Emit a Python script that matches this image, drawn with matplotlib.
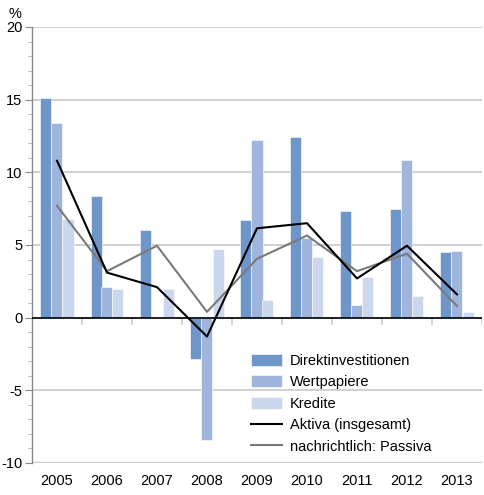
import matplotlib
matplotlib.use("Agg")
import matplotlib.pyplot as plt
import numpy as np
from matplotlib.ticker import MultipleLocator

years = ["2005", "2006", "2007", "2008", "2009", "2010", "2011", "2012", "2013"]
direkt = [15.1, 8.4, 6.0, -2.85, 6.7, 12.4, 7.35, 7.5, 4.55]
wertpapiere = [13.4, 2.1, 0.0, -8.4, 12.2, 5.5, 0.9, 10.85, 4.6]
kredite = [6.8, 2.0, 1.95, 4.7, 1.25, 4.15, 2.8, 1.5, 0.4]
aktiva = [10.8, 3.1, 2.1, -1.3, 6.15, 6.5, 2.7, 4.95, 1.6]
passiva = [7.7, 3.2, 4.95, 0.4, 4.05, 5.65, 3.2, 4.4, 0.8]
labels = ["Direktinvestitionen", "Wertpapiere", "Kredite",
          "Aktiva (insgesamt)", "nachrichtlich: Passiva"]

plt.rcParams['font.family'] = ['Liberation Sans', 'DejaVu Sans']
plt.rcParams['axes.unicode_minus'] = False

fig = plt.figure(figsize=(4.85, 4.95), dpi=100)
ax = fig.add_axes([32/485, 1 - 463/495, 450/485, (463-27)/495])

x = np.arange(len(years))
w = 0.22
c1, c2, c3 = "#6f96c9", "#a0b5dc", "#cbd7ec"
b1 = ax.bar(x - w, direkt, w, color=c1, edgecolor="white", linewidth=0.4, zorder=2)
b2 = ax.bar(x, wertpapiere, w, color=c2, edgecolor="white", linewidth=0.4, zorder=2)
b3 = ax.bar(x + w, kredite, w, color=c3, edgecolor="white", linewidth=0.4, zorder=2)
l1, = ax.plot(x, aktiva, color="black", lw=1.5, zorder=4)
l2, = ax.plot(x, passiva, color="#7a7a7a", lw=1.5, zorder=3)

ax.set_xlim(-0.5, len(years) - 0.5)
ax.set_ylim(-10, 20)
ax.yaxis.set_major_locator(MultipleLocator(5))
ax.yaxis.set_minor_locator(MultipleLocator(1))
ax.grid(axis="y", which="major", color="#c8c8c8", lw=1.2, zorder=0)
ax.axhline(0, color="black", lw=1.2, zorder=5)
ax.axhline(-10, color="#dddddd", lw=2.5, zorder=1)

for s in ["top", "right", "bottom"]:
    ax.spines[s].set_visible(False)
ax.spines["left"].set_color("#888888")
ax.spines["left"].set_linewidth(1.0)
ax.tick_params(axis="y", which="major", length=5, color="#888888", labelsize=10.5, pad=2)
ax.tick_params(axis="y", which="minor", length=3, color="#aaaaaa")
ax.set_xticks(x)
ax.set_xticklabels(years)
ax.tick_params(axis="x", length=0, labelsize=10.5, pad=8)

# category boundary ticks under zero line
for b in np.arange(0.5, len(years) - 0.5 + 1e-9, 1.0):
    ax.plot([b, b], [0, -0.45], color="#cccccc", lw=1.2, zorder=1)

fig.text(9/485, 1 - 14/495, "%", fontsize=10.5, va="center", ha="left")

ax.legend([b1, b2, b3, l1, l2], labels, loc="upper left",
          bbox_to_anchor=(0.487, 0.25), frameon=False,
          fontsize=10.5, handlelength=2.1, handleheight=0.9, labelspacing=0.5,
          borderaxespad=0, borderpad=0, handletextpad=0.55)

fig.savefig("out.png", dpi=100)
